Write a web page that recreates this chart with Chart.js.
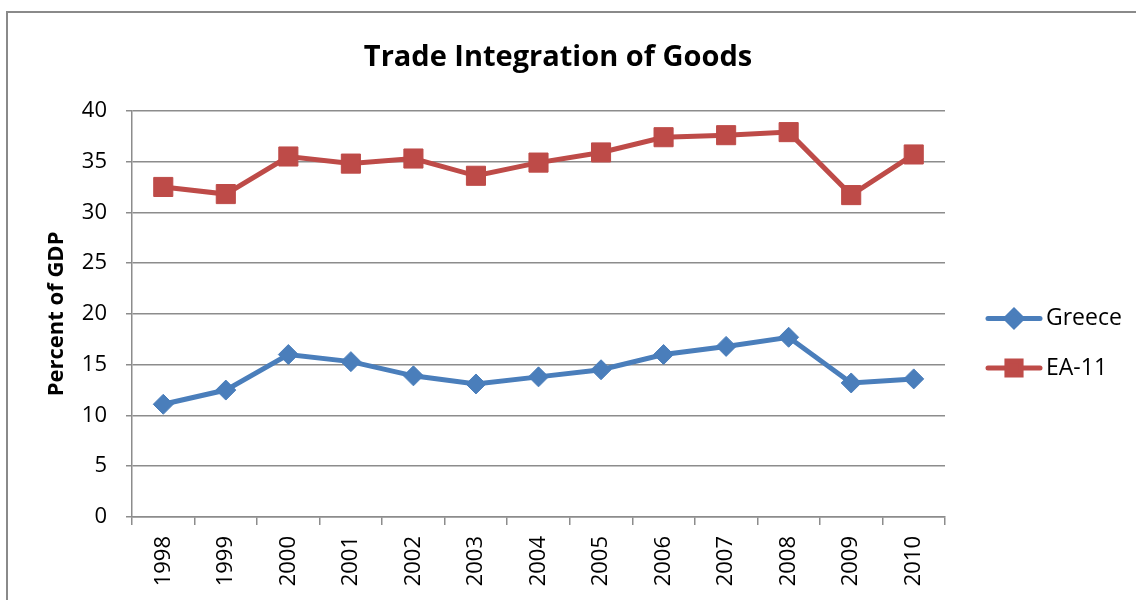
<!DOCTYPE html>
<html>
<head>
<meta charset="utf-8">
<script src="https://cdn.jsdelivr.net/npm/chart.js@4/dist/chart.umd.min.js"></script>
<style>
  html, body { margin: 0; padding: 0; background: #ffffff; }
  #wrap { position: relative; width: 1136px; height: 600px; }
</style>
</head>
<body>
<div id="wrap"><canvas id="c" width="1136" height="600"></canvas></div>
<script>
const categories = ['1998','1999','2000','2001','2002','2003','2004','2005','2006','2007','2008','2009','2010'];
const greece = [11.1, 12.5, 16.0, 15.3, 13.9, 13.1, 13.8, 14.5, 16.0, 16.8, 17.7, 13.2, 13.6];
const ea11 = [32.5, 31.8, 35.5, 34.8, 35.3, 33.6, 34.9, 35.9, 37.4, 37.6, 37.9, 31.7, 35.7];
const seriesNames = ['Greece', 'EA-11'];
const yMin = 0, yMax = 40, yStep = 5;
const titleText = 'Trade Integration of Goods';
const yTitleText = 'Percent of GDP';

const BLUE = '#4a7ebb';
const RED = '#be4b48';
const GRID = '#8c8c8c';

const framePlugin = {
  id: 'frame',
  beforeDraw(chart) {
    const ctx = chart.ctx;
    ctx.save();
    ctx.strokeStyle = '#8a8a8a';
    ctx.lineWidth = 2;
    ctx.strokeRect(7, 12, 2000, 2000);
    ctx.restore();
  }
};

const legendPlugin = {
  id: 'customLegend',
  afterDraw(chart) {
    const ctx = chart.ctx;
    const rows = [318.5, 368];
    const markerStyle = [{style: 'rectRot', r: 8}, {style: 'rect', r: 10}];
    chart.data.datasets.forEach((ds, i) => {
      const y = rows[i];
      ctx.save();
      ctx.strokeStyle = ds.borderColor;
      ctx.lineWidth = 5;
      ctx.lineCap = 'round';
      ctx.beginPath();
      ctx.moveTo(988, y);
      ctx.lineTo(1040, y);
      ctx.stroke();
      ctx.fillStyle = ds.borderColor;
      ctx.strokeStyle = ds.borderColor;
      Chart.helpers.drawPoint(ctx, {pointStyle: markerStyle[i].style, radius: markerStyle[i].r, borderWidth: 1, rotation: 0}, 1014, y);
      ctx.fillStyle = '#000';
      ctx.font = '23px "Open Sans"';
      ctx.textBaseline = 'middle';
      ctx.textAlign = 'left';
      ctx.fillText(ds.label, 1046, y);
      ctx.restore();
    });
  }
};

new Chart(document.getElementById('c'), {
  type: 'line',
  data: {
    labels: categories,
    datasets: [
      {
        label: seriesNames[0],
        data: greece,
        borderColor: BLUE,
        backgroundColor: BLUE,
        borderWidth: 5,
        pointStyle: 'rectRot',
        pointRadius: 10,
        pointBorderWidth: 1,
        pointBackgroundColor: BLUE,
        pointBorderColor: BLUE,
        tension: 0,
        fill: false
      },
      {
        label: seriesNames[1],
        data: ea11,
        borderColor: RED,
        backgroundColor: RED,
        borderWidth: 5,
        pointStyle: 'rect',
        pointRadius: 13.5,
        pointBorderWidth: 1,
        pointBackgroundColor: RED,
        pointBorderColor: RED,
        tension: 0,
        fill: false
      }
    ]
  },
  options: {
    responsive: false,
    animation: false,
    layout: { padding: { left: 0, right: 20, top: 0, bottom: 0 } },
    plugins: {
      legend: { display: false },
      tooltip: { enabled: false },
      title: {
        display: true,
        text: titleText,
        color: '#000',
        font: { family: '"Open Sans"', size: 29, weight: 'bold', lineHeight: 1.2 },
        padding: { top: 40, bottom: 36 }
      }
    },
    scales: {
      x: {
        offset: true,
        grid: {
          offset: true,
          drawOnChartArea: false,
          drawTicks: true,
          tickLength: 8,
          color: GRID,
          lineWidth: 1.5
        },
        border: { display: true, color: GRID, width: 1.5 },
        ticks: {
          color: '#000',
          font: { family: '"Open Sans"', size: 22 },
          minRotation: 90,
          maxRotation: 90,
          padding: 11,
          autoSkip: false
        },
        afterFit(s) { s.height = 83; }
      },
      y: {
        min: yMin,
        max: yMax,
        grid: {
          color: GRID,
          lineWidth: 1.5,
          drawTicks: true,
          tickLength: 6
        },
        border: { display: true, color: GRID, width: 1.5 },
        ticks: {
          stepSize: yStep,
          color: '#000',
          font: { family: '"Open Sans"', size: 22 },
          padding: 19
        },
        title: {
          display: true,
          text: yTitleText,
          color: '#000',
          font: { family: '"Open Sans"', size: 22, weight: 'bold', lineHeight: 1.2 },
          padding: { top: 44, bottom: 0 }
        },
        afterFit(s) { s.width = 132; }
      },
      yR: {
        position: 'right',
        display: true,
        min: yMin,
        max: yMax,
        grid: { display: false },
        border: { display: false },
        ticks: { display: false },
        afterFit(s) { s.width = 171; }
      }
    }
  },
  plugins: [framePlugin, legendPlugin]
});
</script>
</body>
</html>
